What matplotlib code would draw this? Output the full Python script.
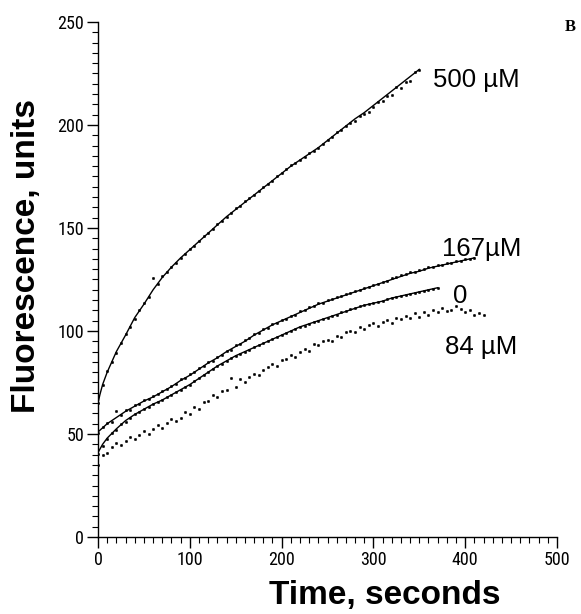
import numpy as np
import matplotlib
matplotlib.use("Agg")
import matplotlib.pyplot as plt
from matplotlib.ticker import MultipleLocator
from matplotlib import font_manager

# fitted curves (time in s, fluorescence units)
t_fit_500 = [0, 2, 5, 10, 20, 30, 40, 50, 60, 70, 80, 90, 100, 110, 120, 130, 140, 150,
             160, 170, 180, 190, 200, 210, 220, 230, 240, 250, 260, 270, 280, 290, 300,
             310, 320, 330, 340, 350]
f_fit_500 = [65, 69, 74, 80, 90, 98, 106.5, 113, 120, 126, 131, 135.5, 139.5, 143.5, 147.5,
             151.5, 155.5, 159, 162.5, 166, 169.5, 173, 176.5, 180, 183, 186, 189, 192.5,
             196, 199.5, 203, 206, 209.5, 213, 216.5, 220, 223.5, 227]

t_fit_167 = [0, 10, 20, 30, 40, 50, 60, 70, 80, 90, 100, 110, 120, 130, 140, 150, 160, 170,
             180, 190, 200, 210, 220, 230, 240, 250, 260, 270, 280, 290, 300, 310, 320, 330,
             340, 350, 360, 370, 380, 390, 400, 410]
f_fit_167 = [51, 55, 58, 61, 63.5, 66, 68, 70.5, 73, 76, 78.5, 81.5, 84.5, 87, 90, 92.5, 95,
             98, 100.5, 103, 105, 107, 109, 111, 113, 114.5, 116, 117.5, 119, 120.5, 122,
             123.5, 125, 126.5, 128, 129, 130.5, 131.5, 132.5, 133.5, 134.5, 135.5]

t_fit_0 = [0, 5, 10, 20, 30, 40, 50, 60, 70, 80, 90, 100, 110, 120, 130, 140, 150, 160, 170,
           180, 190, 200, 210, 220, 230, 240, 250, 260, 270, 280, 290, 300, 310, 320, 330,
           340, 350, 360, 370]
f_fit_0 = [41, 45, 48, 52.5, 56.5, 59.5, 62, 64.5, 66.5, 69, 71.5, 74, 77, 80, 83, 85.5, 88,
           90, 92, 94, 96, 98, 100, 102, 103.5, 105, 106.5, 108, 109.5, 111, 112.5, 113.5,
           114.5, 116, 117, 118, 119, 120, 121]

# raw readings (every 5 s)
f_dots_500 = [65, 74, 80.5, 85, 89.5, 94, 98.5, 102, 106, 110, 113.5, 116.5, 125.5, 123,
              126.5, 128.5, 131, 133, 135.5, 137.5, 140, 141.5, 143.5, 146, 147.5, 149.5,
              152, 153.5, 155.5, 157.5, 159.5, 160.5, 163, 164.5, 166, 168, 170, 171.5, 173,
              175, 176.5, 178.5, 180.5, 181.5, 183, 184.5, 186.5, 187.5, 189, 191, 192.5,
              194, 196.5, 197.5, 199.5, 201, 202, 204.5, 205.5, 206.5, 208.5, 211, 211.5,
              214, 214.5, 218.5, 218, 221, 221.5, 225.5, 226.5]
f_dots_167 = [50.5, 53.5, 55.5, 56, 61, 59, 61.5, 61.5, 64, 64.5, 66.5, 67, 68.5, 69.5, 71,
              72, 73.5, 74.5, 76.5, 77, 79, 80, 82, 83, 85, 85.5, 87.5, 88.5, 90.5, 91, 93,
              93.5, 95.5, 96.5, 98.5, 99, 101, 101.5, 103.5, 104, 105.5, 106, 107.5, 108,
              109.5, 110, 111.5, 112, 113.5, 113.5, 115, 115.5, 116.5, 117, 118, 118.5,
              119.5, 120, 121, 121.5, 122.5, 123, 124, 124.5, 125.5, 126, 127, 127.5, 128.5,
              128.5, 129.5, 130, 131, 131, 132, 132, 133, 133, 134, 134, 135, 135, 135.5]
f_dots_0 = [40.5, 44, 47.5, 50.5, 52, 55, 56, 58, 59.5, 60.5, 62, 63, 64.5, 65.5, 66.5,
            68, 69, 70.5, 71.5, 73, 74, 75.5, 77, 78.5, 80, 81.5, 83, 84, 85.5, 87, 88,
            89, 90, 91, 92, 93, 94, 95, 96, 97, 98, 99, 100, 101, 102, 102.5, 103.5, 104.5,
            105, 106, 106.5, 107.5, 108, 109, 109.5, 110.5, 111, 112, 112.5, 113, 113.5,
            114, 114.5, 115.5, 116, 116.5, 117, 117.5, 118, 118.5, 119, 119.5, 120, 120.5,
            121]
f_dots_84 = [35, 40, 41, 43.5, 45.5, 44.5, 46.5, 48.5, 47.5, 49.5, 51.5, 50, 52.5, 54.5,
             53, 55.5, 57.5, 56.5, 58, 60.5, 59.5, 63, 62, 65.5, 66, 69, 68, 71, 71.5, 77,
             73, 76.5, 75, 77.5, 79, 78.5, 81, 82.5, 84, 83, 86, 86.5, 88.5, 87.5, 90, 91.5,
             90.5, 93.5, 93, 95, 95.5, 95, 97.5, 97, 99.5, 100, 99.5, 102, 101, 103, 104,
             102.5, 104.5, 105.5, 104, 106.5, 106, 107.5, 106.5, 108.5, 107, 109, 108, 110,
             109, 111, 109.5, 110, 112, 110.5, 109, 110, 108, 108.5, 108]

label_font = ["Liberation Sans", "DejaVu Sans"]


def narrow_font():
    # a condensed face for the tick numbers, if one is installed
    names = {f.name for f in font_manager.fontManager.ttflist}
    for cand in ["Liberation Sans Narrow", "DejaVu Sans Condensed", "Roboto Condensed",
                 "Open Sans Condensed"]:
        if cand in names:
            return font_manager.FontProperties(family=cand, size=13)
    for f in font_manager.fontManager.ttflist:
        if f.name == "DejaVu Sans" and f.stretch == "condensed" and f.weight == 400:
            return font_manager.FontProperties(fname=f.fname, size=13)
    return font_manager.FontProperties(family=label_font, size=12.5)


def main():
    fig = plt.figure(figsize=(5.81, 6.14), dpi=100)
    ax = fig.add_axes([0.1687, 0.1254, 0.790, 0.8388])

    dot_sets = [f_dots_500, f_dots_167, f_dots_0, f_dots_84]
    for vals in dot_sets:
        t = np.arange(len(vals)) * 5
        ax.plot(t, vals, ls="none", marker="o", ms=1.8, mec="black", mfc="black",
                mew=0.3)

    for t, f in [(t_fit_500, f_fit_500), (t_fit_167, f_fit_167), (t_fit_0, f_fit_0)]:
        ax.plot(t, f, color="black", lw=1.0)

    ax.set_xlim(0, 500)
    ax.set_ylim(0, 250)
    ax.xaxis.set_major_locator(MultipleLocator(100))
    ax.xaxis.set_minor_locator(MultipleLocator(10))
    ax.yaxis.set_major_locator(MultipleLocator(50))
    ax.yaxis.set_minor_locator(MultipleLocator(5))
    ax.tick_params(which="major", direction="out", length=8, width=1, pad=2)
    ax.tick_params(which="minor", direction="out", length=4, width=0.8)
    fp = narrow_font()
    for lab in ax.get_xticklabels() + ax.get_yticklabels():
        lab.set_fontproperties(fp)

    ax.spines["top"].set_visible(False)
    ax.spines["right"].set_visible(False)
    for s in ("left", "bottom"):
        ax.spines[s].set_linewidth(1)

    # curve labels
    kw = dict(fontsize=18.5, family=label_font, va="center", ha="left")
    ax.text(365, 222, "500 \u00b5M", **kw)
    ax.text(375, 140, "167\u00b5M", **kw)
    ax.text(387, 117, "0", **kw)
    ax.text(378, 92, "84 \u00b5M", **kw)

    fig.text(0.046, 0.583, "Fluorescence, units", rotation=90, ha="center",
             va="center", fontsize=24, fontweight="bold", family=label_font)
    fig.text(0.663, 0.016, "Time, seconds", ha="center", va="baseline",
             fontsize=24, fontweight="bold", family=label_font)
    fig.text(0.972, 0.956, "B", ha="left", va="center", fontsize=12,
             fontweight="bold", family=["Liberation Serif", "DejaVu Serif"])

    fig.savefig("out.png", dpi=100)


if __name__ == '__main__':
    main()
